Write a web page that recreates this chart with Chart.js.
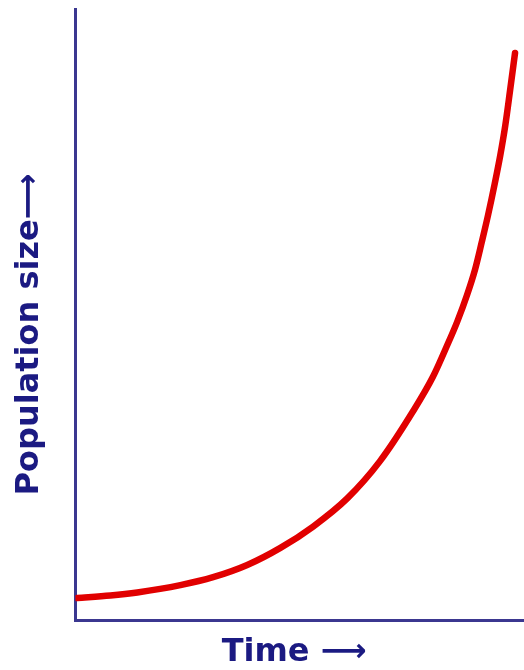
<!DOCTYPE html>
<html>
<head>
<meta charset="utf-8">
<script src="https://cdn.jsdelivr.net/npm/chart.js@4/dist/chart.umd.min.js"></script>
<style>
  html, body { margin: 0; padding: 0; background: #ffffff; }
  #wrap { width: 524px; height: 670px; position: relative; }
</style>
</head>
<body>
<div id="wrap"><canvas id="c"></canvas></div>
<script>
// Time (arbitrary units, 0-100) and population size (arbitrary units, 0-100)
const timeValues = [0.4, 7.8, 13.8, 23.4, 30.7, 38.3, 45.7, 53.0, 60.6, 67.9, 75.3, 79.7, 82.9, 85.1, 87.3, 89.1, 90.6, 92.0, 93.5, 94.7, 95.8, 96.9, 98.0];
const populationValues = [3.6, 4.0, 4.5, 5.7, 7.0, 9.0, 11.8, 15.3, 19.9, 26.0, 34.2, 39.8, 45.0, 48.8, 53.2, 57.4, 61.9, 66.3, 71.5, 76.0, 80.8, 86.7, 92.8];
const xAxisLabel = 'Time \u27F6\u00A0';
const yAxisLabel = 'Population size\u27F6\u00A0\u00A0\u00A0\u2009';

const axisColor = '#3b3790';
const textColor = '#1b1a82';
const curveColor = '#e10000';

const points = timeValues.map((t, i) => ({ x: t, y: populationValues[i] }));

new Chart(document.getElementById('c'), {
  type: 'line',
  data: {
    datasets: [{
      data: points,
      borderColor: curveColor,
      borderWidth: 6.5,
      pointRadius: 0,
      cubicInterpolationMode: 'monotone',
      fill: false,
      borderCapStyle: 'round'
    }]
  },
  options: {
    responsive: true,
    maintainAspectRatio: false,
    animation: false,
    layout: { padding: { left: 6, right: 0, top: 9, bottom: 0 } },
    plugins: { legend: { display: false }, tooltip: { enabled: false } },
    scales: {
      x: {
        type: 'linear', min: 0, max: 100,
        grid: { display: false, drawTicks: false },
        border: { display: true, color: axisColor, width: 3 },
        ticks: { display: false },
        title: {
          display: true, text: xAxisLabel, color: textColor,
          font: { family: 'DejaVu Sans', weight: 'bold', size: 32, lineHeight: 1 },
          padding: { top: 17, bottom: 1 }
        }
      },
      y: {
        type: 'linear', min: 0, max: 100,
        grid: { display: false, drawTicks: false },
        border: { display: true, color: axisColor, width: 3 },
        ticks: { display: false },
        title: {
          display: true, text: yAxisLabel, color: textColor,
          font: { family: 'DejaVu Sans', weight: 'bold', size: 32 },
          padding: { top: 4, bottom: 27 }
        }
      }
    }
  }
});
</script>
</body>
</html>
